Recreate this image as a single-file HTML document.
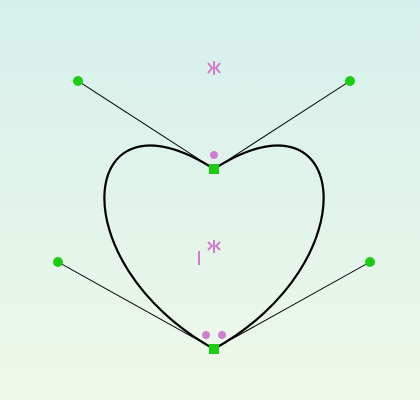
<!DOCTYPE html>
<html><head><meta charset="utf-8"><style>
html,body{margin:0;padding:0}
body{width:420px;height:400px;background:linear-gradient(#d5f0ec,#eff8e9);overflow:hidden}
svg{display:block}
</style></head><body>
<svg width="420" height="400">
<g stroke="#000" stroke-width="1">
<line x1="78" y1="81" x2="214" y2="169"/>
<line x1="350" y1="81" x2="214" y2="169"/>
<line x1="58" y1="262" x2="214" y2="349"/>
<line x1="370" y1="262" x2="214" y2="349"/>
</g>
<path d="M214,169 C78,81 58,262 214,349 C370,262 350,81 214,169Z" fill="none" stroke="#000" stroke-width="2.2"/>
<g fill="#d07ccc">
<circle cx="214" cy="155" r="4"/>
<circle cx="206" cy="335" r="4"/>
<circle cx="222" cy="335" r="4"/>
</g>
<g stroke="#d07ccc" stroke-width="2" fill="none">
<g>
<line x1="214" y1="61" x2="214" y2="75"/>
<polyline points="208,63 212,68 208,73"/>
<polyline points="220,63 216,68 220,73"/>
</g>
<g>
<line x1="214" y1="240" x2="214" y2="253"/>
<polyline points="208,242 212,246 208,250"/>
<polyline points="220,242 216,246 220,250"/>
<line x1="199" y1="251" x2="199" y2="265"/>
</g>
</g>
<g fill="#1ccc10">
<circle cx="78" cy="81" r="5"/>
<circle cx="350" cy="81" r="5"/>
<circle cx="58" cy="262" r="5"/>
<circle cx="370" cy="262" r="5"/>
<rect x="209" y="164" width="10" height="10"/>
<rect x="209" y="344" width="10" height="10"/>
</g>
</svg>
</body></html>
